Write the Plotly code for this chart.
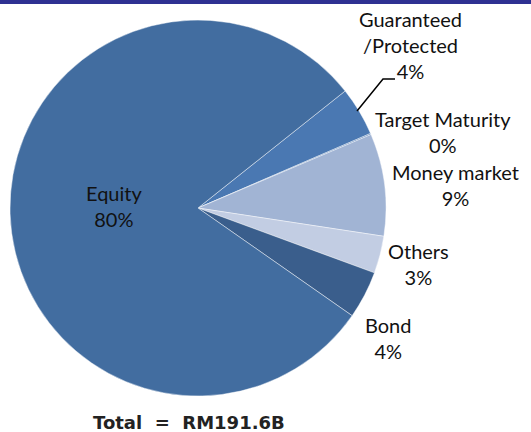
import plotly.graph_objects as go

# fund categories, clockwise from the top-right
labels = ["Guaranteed<br>/Protected", "Target Maturity", "Money market", "Others", "Bond", "Equity"]
values = [4.2, 0.1, 8.8, 3.2, 4.1, 79.6]
colors = ["#4A78B2", "#4A78B2", "#A1B4D4", "#C2CDE3", "#3A5E8C", "#426DA0"]
total_text = "Total\u00a0\u00a0=\u00a0\u00a0RM191.6B"

W, H = 531, 432
tot = sum(values)
pcts = [f"{round(v / tot * 100)}%" for v in values]

# label anchor points (pixels from top-left)
label_xy = [(410, 45), (443, 132), (455, 185), (418, 264), (388, 338), (114, 206)]

fig = go.Figure(go.Pie(
    labels=labels,
    values=values,
    sort=False,
    direction="clockwise",
    rotation=51.5,
    marker=dict(colors=colors, line=dict(color="rgba(255,255,255,0.55)", width=0.8)),
    textinfo="none",
    hoverinfo="label+percent",
    showlegend=False,
    domain=dict(x=[10 / W, 386 / W], y=[(224 - 188) / H, (224 + 188) / H]),
))

lab_font = dict(family="Lato", size=20, color="#111111")
for (x, y), lab, p in zip(label_xy, labels, pcts):
    fig.add_annotation(x=x / W, y=1 - y / H, xref="paper", yref="paper",
                       text=f"{lab}<br>{p}", showarrow=False, font=lab_font,
                       xanchor="center", yanchor="middle", align="center")

fig.add_annotation(x=189 / W, y=1 - 422 / H, xref="paper", yref="paper",
                   text=f"<b>{total_text}</b>", showarrow=False,
                   font=dict(family="DejaVu Sans", size=18, color="#222222"),
                   xanchor="center", yanchor="middle")

# top rule
fig.add_shape(type="rect", xref="paper", yref="paper", x0=0, x1=1, y0=1 - 4 / H, y1=1,
              fillcolor="#2E3192", line_width=0)
# leader line for Guaranteed
fig.add_shape(type="path", xref="paper", yref="paper",
              path=f"M {357 / W} {1 - 111 / H} L {383 / W} {1 - 79 / H} L {395 / W} {1 - 79 / H}",
              line=dict(color="black", width=1.5))

fig.update_layout(width=W, height=H, margin=dict(l=0, r=0, t=0, b=0),
                  paper_bgcolor="white", plot_bgcolor="white")

fig.write_html("out.html", config={"displayModeBar": False},
               post_script="document.body.style.margin='0';")
